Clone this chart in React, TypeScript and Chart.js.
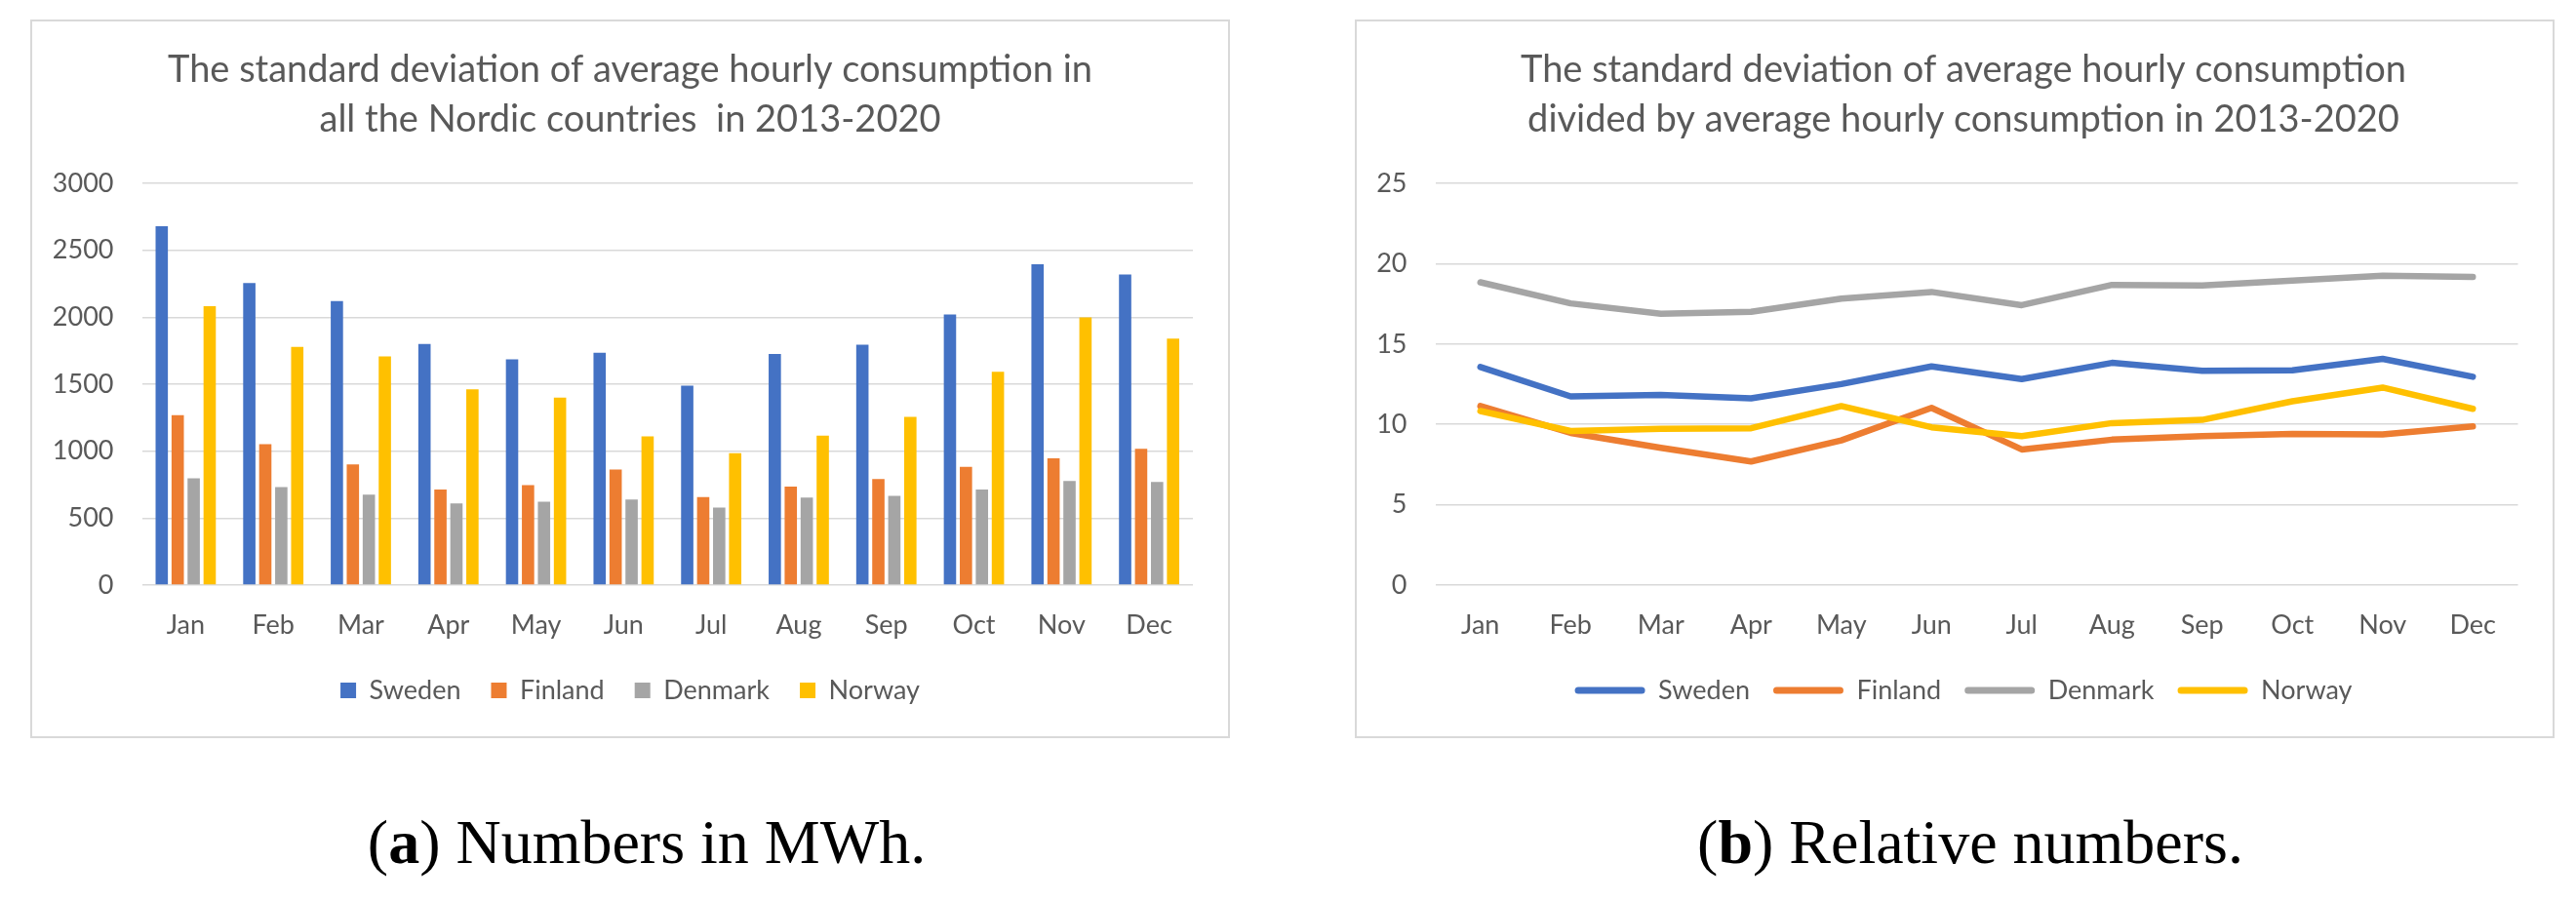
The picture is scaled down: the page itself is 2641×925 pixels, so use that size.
import React, { useEffect, useRef } from "react";
import { Chart, registerables } from "chart.js";

Chart.register(...registerables);

const months = ["Jan", "Feb", "Mar", "Apr", "May", "Jun", "Jul", "Aug", "Sep", "Oct", "Nov", "Dec"];
const countries = ["Sweden", "Finland", "Denmark", "Norway"];
const seriesColors = ["#4472C4", "#ED7D31", "#A5A5A5", "#FFC000"];

// (a) standard deviation, MWh
const mwhSweden = [2680, 2255, 2120, 1800, 1686, 1734, 1489, 1725, 1795, 2021, 2395, 2320];
const mwhFinland = [1268, 1052, 901, 714, 746, 862, 658, 736, 792, 882, 947, 1018];
const mwhDenmark = [797, 731, 675, 610, 622, 639, 578, 653, 666, 714, 777, 770];
const mwhNorway = [2082, 1778, 1708, 1462, 1399, 1110, 984, 1115, 1256, 1593, 1999, 1841];

// (b) relative numbers
const relSweden = [13.57, 11.74, 11.83, 11.62, 12.51, 13.61, 12.82, 13.83, 13.33, 13.37, 14.08, 12.96];
const relFinland = [11.14, 9.47, 8.54, 7.69, 9.0, 11.03, 8.44, 9.05, 9.27, 9.41, 9.37, 9.88];
const relDenmark = [18.84, 17.53, 16.88, 17.0, 17.83, 18.24, 17.42, 18.68, 18.64, 18.95, 19.25, 19.17];
const relNorway = [10.83, 9.59, 9.72, 9.76, 11.14, 9.82, 9.27, 10.08, 10.28, 11.44, 12.29, 10.97];

const barTitle = [
  "The standard deviation of average hourly consumption in",
  "all the Nordic countries  in 2013-2020",
];
const lineTitle = [
  "The standard deviation of average hourly consumption",
  "divided by average hourly consumption in 2013-2020",
];
const barAxis = { min: 0, max: 3000, step: 500 };
const lineAxis = { min: 0, max: 25, step: 5 };

const FONT = "Lato";
const TEXT = "#595959";
const GRID = "#d9d9d9";
const BOX_W = 1230;
const BOX_H = 737;

const tickFont = { family: FONT, size: 27 };
const titleFont = { family: FONT, size: 38, weight: "normal" as const, lineHeight: "51px" };

const spacerAxis = (w: number) => ({
  position: "right" as const,
  display: true,
  grid: { display: false },
  border: { display: false },
  ticks: { display: false },
  afterFit: (s: any) => {
    s.width = w;
  },
});

function BarPanel() {
  const ref = useRef<HTMLCanvasElement | null>(null);
  useEffect(() => {
    if (!ref.current) return;
    const values = [mwhSweden, mwhFinland, mwhDenmark, mwhNorway];
    const chart = new Chart(ref.current, {
      type: "bar",
      data: {
        labels: months,
        datasets: countries.map((c, i) => ({
          label: c,
          data: values[i],
          backgroundColor: seriesColors[i],
          borderWidth: 0,
          categoryPercentage: 0.73,
          barPercentage: 0.77,
        })),
      },
      options: {
        animation: false,
        responsive: true,
        maintainAspectRatio: false,
        layout: { padding: { left: 0, right: 0, top: 0, bottom: 25.5 } },
        plugins: {
          title: {
            display: true,
            text: barTitle,
            color: TEXT,
            font: titleFont,
            padding: { top: 26.5, bottom: 39.5 },
          },
          legend: {
            position: "bottom",
            labels: {
              color: TEXT,
              font: tickFont,
              boxWidth: 16,
              boxHeight: 16,
              padding: 31,
            },
          },
          tooltip: { enabled: false },
        },
        scales: {
          x: {
            grid: { display: false },
            border: { display: false },
            ticks: { color: TEXT, font: tickFont, padding: 17 },
            afterFit: (s: any) => {
              s.height = 63.5;
            },
          },
          y: {
            min: barAxis.min,
            max: barAxis.max,
            ticks: {
              stepSize: barAxis.step,
              color: TEXT,
              font: tickFont,
              padding: 29,
              callback: (v: any) => String(v),
            },
            grid: { color: GRID, lineWidth: 1.6, drawTicks: false },
            border: { display: false },
            afterFit: (s: any) => {
              s.width = 114.5;
            },
          },
          y2: spacerAxis(38),
        },
      },
    });
    return () => chart.destroy();
  }, []);
  return <canvas ref={ref} />;
}

function LinePanel() {
  const ref = useRef<HTMLCanvasElement | null>(null);
  useEffect(() => {
    if (!ref.current) return;
    const values = [relSweden, relFinland, relDenmark, relNorway];
    const chart = new Chart(ref.current, {
      type: "line",
      data: {
        labels: months,
        datasets: countries.map((c, i) => ({
          label: c,
          data: values[i],
          borderColor: seriesColors[i],
          backgroundColor: seriesColors[i],
          borderWidth: 6.5,
          pointRadius: 0,
          tension: 0,
          borderCapStyle: "round" as const,
          borderJoinStyle: "round" as const,
          order: 4 - i,
          yAxisID: "y",
        })),
      },
      options: {
        animation: false,
        responsive: true,
        maintainAspectRatio: false,
        layout: { padding: { left: 18, right: 0, top: 0, bottom: 25.5 } },
        plugins: {
          title: {
            display: true,
            text: lineTitle,
            color: TEXT,
            font: titleFont,
            padding: { top: 26.5, bottom: 39.5 },
          },
          legend: {
            position: "bottom",
            labels: {
              color: TEXT,
              font: tickFont,
              boxWidth: 72,
              boxHeight: 7,
              padding: 24,
              useBorderRadius: true,
              borderRadius: 3.5,
              sort: (a: any, b: any) => a.datasetIndex - b.datasetIndex,
              generateLabels: (ch: any) =>
                (Chart.defaults.plugins.legend.labels as any)
                  .generateLabels(ch)
                  .map((l: any) => ({ ...l, fillStyle: l.strokeStyle, lineWidth: 0, borderRadius: 3.5 })),
            },
          },
          tooltip: { enabled: false },
        },
        scales: {
          x: {
            offset: true,
            grid: { display: false },
            border: { display: false },
            ticks: { color: TEXT, font: tickFont, padding: 17 },
            afterFit: (s: any) => {
              s.height = 70.5;
            },
          },
          y: {
            min: lineAxis.min,
            max: lineAxis.max,
            ticks: {
              stepSize: lineAxis.step,
              color: TEXT,
              font: tickFont,
              padding: 29,
              callback: (v: any) => String(v),
            },
            grid: { color: GRID, lineWidth: 1.6, drawTicks: false },
            border: { display: false },
            afterFit: (s: any) => {
              s.width = 64.5;
            },
          },
          y2: spacerAxis(37.5),
        },
      },
    });
    return () => chart.destroy();
  }, []);
  return <canvas ref={ref} />;
}

const boxStyle = (left: number): React.CSSProperties => ({
  position: "absolute",
  left,
  top: 20,
  width: BOX_W,
  height: BOX_H,
  background: "#fff",
});

const borderStyle = (left: number): React.CSSProperties => ({
  position: "absolute",
  left,
  top: 20,
  width: BOX_W,
  height: BOX_H,
  border: `2px solid ${GRID}`,
  boxSizing: "border-box",
  pointerEvents: "none",
});

const captionStyle = (center: number): React.CSSProperties => ({
  position: "absolute",
  left: center - 400,
  width: 800,
  top: 832,
  textAlign: "center",
  fontFamily: "'Liberation Serif', 'Times New Roman', serif",
  fontSize: 64,
  lineHeight: "64px",
  color: "#000",
  whiteSpace: "nowrap",
});

export default function App() {
  return (
    <div style={{ position: "absolute", left: 0, top: 0, width: 2641, height: 925, background: "#fff", overflow: "hidden" }}>
      <div style={boxStyle(31)}>
        <BarPanel />
      </div>
      <div style={borderStyle(31)} />
      <div style={boxStyle(1389)}>
        <LinePanel />
      </div>
      <div style={borderStyle(1389)} />
      <div style={captionStyle(663)}>
        (<b>a</b>) Numbers in MWh.
      </div>
      <div style={captionStyle(2020)}>
        (<b>b</b>) Relative numbers.
      </div>
    </div>
  );
}
